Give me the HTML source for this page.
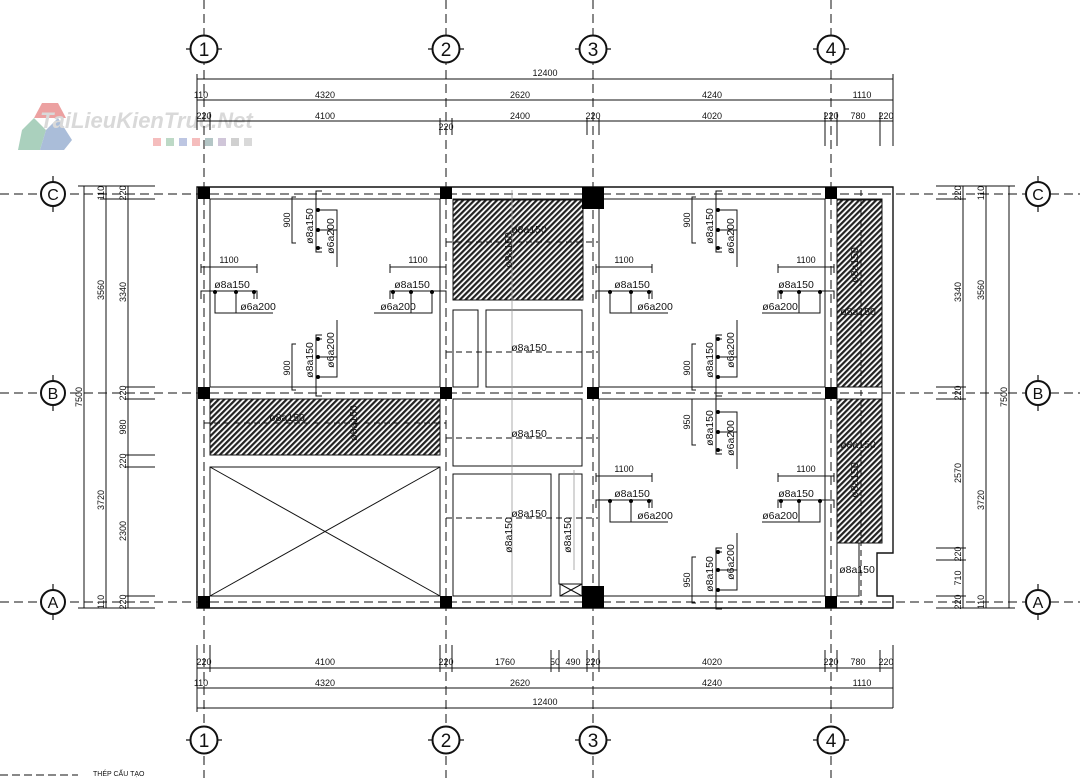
<!DOCTYPE html>
<html><head><meta charset="utf-8"><style>
html,body{margin:0;padding:0;background:#fff}
svg{display:block}
text{font-family:"Liberation Sans",sans-serif;fill:#111}
.d{font-size:9px}
.r{font-size:10.5px}
</style></head><body>
<svg width="1080" height="778" viewBox="0 0 1080 778" xmlns="http://www.w3.org/2000/svg">
<defs>
<pattern id="h" width="4" height="4" patternUnits="userSpaceOnUse" patternTransform="rotate(45)">
<rect width="4" height="4" fill="#fff"/><rect width="2.2" height="4" fill="#222"/></pattern>
<g id="hr"><line x1="0" y1="0" x2="56" y2="0"/><line x1="0" y1="-3" x2="0" y2="6"/><line x1="56" y1="-3" x2="56" y2="6"/><path d="M0 32 V24 H56 V32"/><path d="M14 25 V46 H72 M35 25 V46 M53 25 V32"/></g>
<g id="vr"><path d="M4 0 H0 V46 H4"/><path d="M30 -6 H24 V55 H30"/><path d="M25 13 H45 V70 M25 33 H45 M25 51 H30"/></g>
</defs>
<!-- watermark -->
<g opacity="0.55">
<polygon points="42,103 58,103 66,118 34,118" fill="#d55"/>
<polygon points="22,130 34,118 46,130 40,150 18,150" fill="#6a8"/>
<polygon points="46,130 58,118 72,140 64,150 40,150" fill="#68b"/>
<text x="40" y="128" font-size="22" font-style="italic" font-weight="bold" style="fill:#bbb">TaiLieuKienTruc.Net</text>
<rect x="153" y="138" width="8" height="8" fill="#e88"/><rect x="166" y="138" width="8" height="8" fill="#8b9"/><rect x="179" y="138" width="8" height="8" fill="#89c"/><rect x="192" y="138" width="8" height="8" fill="#e88"/><rect x="205" y="138" width="8" height="8" fill="#799"/><rect x="218" y="138" width="8" height="8" fill="#a9b"/><rect x="231" y="138" width="8" height="8" fill="#aaa"/><rect x="244" y="138" width="8" height="8" fill="#bbb"/>
</g>
<g stroke="#111" fill="none" stroke-width="1">
<g stroke-dasharray="9,5" stroke-width="1">
<line x1="204" y1="0" x2="204" y2="778"/><line x1="446" y1="0" x2="446" y2="778"/>
<line x1="593" y1="0" x2="593" y2="778"/><line x1="831" y1="0" x2="831" y2="778"/>
<line x1="0" y1="194" x2="1080" y2="194"/><line x1="0" y1="393" x2="1080" y2="393"/><line x1="0" y1="602" x2="1080" y2="602"/>
</g>
<g stroke-width="1.2">
<line x1="186" y1="49" x2="222" y2="49"/><line x1="428" y1="49" x2="464" y2="49"/><line x1="575" y1="49" x2="611" y2="49"/><line x1="813" y1="49" x2="849" y2="49"/>
<line x1="186" y1="740" x2="222" y2="740"/><line x1="428" y1="740" x2="464" y2="740"/><line x1="575" y1="740" x2="611" y2="740"/><line x1="813" y1="740" x2="849" y2="740"/>
<line x1="53" y1="176" x2="53" y2="212"/><line x1="53" y1="375" x2="53" y2="411"/><line x1="53" y1="584" x2="53" y2="620"/>
<line x1="1038" y1="176" x2="1038" y2="212"/><line x1="1038" y1="375" x2="1038" y2="411"/><line x1="1038" y1="584" x2="1038" y2="620"/>
</g>
<g fill="#fff" stroke-width="2">
<circle cx="204" cy="49" r="13.5"/><circle cx="446" cy="49" r="13.5"/><circle cx="593" cy="49" r="13.5"/><circle cx="831" cy="49" r="13.5"/>
<circle cx="204" cy="740" r="13.5"/><circle cx="446" cy="740" r="13.5"/><circle cx="593" cy="740" r="13.5"/><circle cx="831" cy="740" r="13.5"/>
<circle cx="53" cy="194" r="12"/><circle cx="53" cy="393" r="12"/><circle cx="53" cy="602" r="12"/>
<circle cx="1038" cy="194" r="12"/><circle cx="1038" cy="393" r="12"/><circle cx="1038" cy="602" r="12"/>
</g>
<line x1="197" y1="79" x2="893" y2="79"/><line x1="893" y1="74" x2="893" y2="121"/>
<line x1="197" y1="100" x2="893" y2="100"/><line x1="197" y1="121" x2="893" y2="121"/>
<line x1="197" y1="74" x2="197" y2="130"/><line x1="210" y1="112" x2="210" y2="130"/>
<line x1="440" y1="118" x2="440" y2="135"/><line x1="452" y1="118" x2="452" y2="135"/>
<line x1="587" y1="118" x2="587" y2="135"/><line x1="599" y1="118" x2="599" y2="135"/>
<line x1="825" y1="112" x2="825" y2="146"/><line x1="837" y1="112" x2="837" y2="146"/>
<line x1="880" y1="112" x2="880" y2="146"/><line x1="893" y1="112" x2="893" y2="146"/>
<line x1="197" y1="668" x2="893" y2="668"/><line x1="197" y1="688" x2="893" y2="688"/><line x1="197" y1="708" x2="893" y2="708"/>
<line x1="197" y1="645" x2="197" y2="712"/><line x1="210" y1="645" x2="210" y2="672"/><line x1="893" y1="645" x2="893" y2="708"/>
<line x1="440" y1="645" x2="440" y2="672"/><line x1="452" y1="645" x2="452" y2="672"/>
<line x1="551" y1="650" x2="551" y2="672"/><line x1="559" y1="650" x2="559" y2="672"/>
<line x1="587" y1="650" x2="587" y2="672"/><line x1="599" y1="650" x2="599" y2="672"/>
<line x1="825" y1="650" x2="825" y2="672"/><line x1="837" y1="650" x2="837" y2="672"/><line x1="880" y1="650" x2="880" y2="672"/>
<line x1="84" y1="186" x2="84" y2="608"/><line x1="106" y1="186" x2="106" y2="608"/><line x1="128" y1="186" x2="128" y2="608"/>
<line x1="78" y1="186" x2="155" y2="186"/><line x1="100" y1="199" x2="155" y2="199"/>
<line x1="125" y1="387" x2="155" y2="387"/><line x1="125" y1="399" x2="155" y2="399"/>
<line x1="125" y1="455" x2="155" y2="455"/><line x1="125" y1="467" x2="155" y2="467"/>
<line x1="125" y1="596" x2="155" y2="596"/><line x1="78" y1="608" x2="155" y2="608"/>
<line x1="963" y1="186" x2="963" y2="608"/><line x1="986" y1="186" x2="986" y2="608"/><line x1="1009" y1="186" x2="1009" y2="608"/>
<line x1="936" y1="186" x2="1015" y2="186"/><line x1="936" y1="199" x2="966" y2="199"/>
<line x1="936" y1="387" x2="966" y2="387"/><line x1="936" y1="399" x2="966" y2="399"/>
<line x1="936" y1="548" x2="966" y2="548"/><line x1="936" y1="560" x2="966" y2="560"/>
<line x1="936" y1="596" x2="966" y2="596"/><line x1="936" y1="608" x2="1015" y2="608"/>
<path d="M197 187 H893 V553 H877 V596 H893 V608 H197 Z" stroke-width="1.4"/>
<rect x="210" y="199" width="230" height="188"/>
<rect x="599" y="199" width="226" height="188"/>
<rect x="599" y="399" width="226" height="197"/>
<path d="M837 199 H882 V543 H859 V596 H837 Z"/>
<rect x="210" y="399" width="230" height="56"/>
<rect x="210" y="467" width="230" height="129"/>
<line x1="210" y1="467" x2="440" y2="596"/><line x1="440" y1="467" x2="210" y2="596"/>
<rect x="453" y="199" width="130" height="101"/>
<rect x="453" y="310" width="25" height="77"/><rect x="486" y="310" width="96" height="77"/>
<rect x="453" y="399" width="129" height="67"/>
<rect x="453" y="474" width="98" height="122"/><rect x="559" y="474" width="23" height="110"/>
<rect x="560" y="584" width="22" height="12"/><line x1="560" y1="584" x2="582" y2="596"/><line x1="582" y1="584" x2="560" y2="596"/>
<line x1="454" y1="202" x2="460" y2="218"/><line x1="460" y1="202" x2="454" y2="218"/>
</g>
<g stroke="#111" stroke-width="1">
<rect x="453" y="200" width="130" height="100" fill="url(#h)"/>
<rect x="210" y="399" width="230" height="56" fill="url(#h)"/>
<rect x="837" y="200" width="45" height="187" fill="url(#h)"/>
<rect x="837" y="399" width="45" height="144" fill="url(#h)"/>
</g>
<g fill="#000">
<rect x="198" y="187" width="12" height="12"/><rect x="440" y="187" width="12" height="12"/><rect x="582" y="187" width="22" height="22"/><rect x="825" y="187" width="12" height="12"/>
<rect x="198" y="387" width="12" height="12"/><rect x="440" y="387" width="12" height="12"/><rect x="587" y="387" width="12" height="12"/><rect x="825" y="387" width="12" height="12"/>
<rect x="198" y="596" width="12" height="12"/><rect x="440" y="596" width="12" height="12"/><rect x="582" y="586" width="22" height="22"/><rect x="825" y="596" width="12" height="12"/>
</g>
<g stroke="#111" fill="none" stroke-dasharray="6,4">
<line x1="446" y1="242" x2="598" y2="242"/><line x1="446" y1="352" x2="598" y2="352"/>
<line x1="446" y1="438" x2="598" y2="438"/><line x1="446" y1="518" x2="598" y2="518"/>
<line x1="204" y1="423" x2="446" y2="423"/>
<line x1="861" y1="190" x2="861" y2="605"/>
</g>
<g stroke="#999" fill="none" stroke-width="0.8">
<line x1="512" y1="190" x2="512" y2="605"/><line x1="574" y1="470" x2="574" y2="570"/>
</g>
<g stroke="#111" fill="none">
<use href="#hr" transform="translate(201,267)"/>
<use href="#hr" transform="translate(446,267) scale(-1,1)"/>
<use href="#hr" transform="translate(596,267)"/>
<use href="#hr" transform="translate(834,267) scale(-1,1)"/>
<use href="#hr" transform="translate(596,476)"/>
<use href="#hr" transform="translate(834,476) scale(-1,1)"/>
<use href="#vr" transform="translate(292,197)"/>
<use href="#vr" transform="translate(692,197)"/>
<use href="#vr" transform="translate(692,399)"/>
<use href="#vr" transform="translate(292,390) scale(1,-1)"/>
<use href="#vr" transform="translate(692,390) scale(1,-1)"/>
<use href="#vr" transform="translate(692,603) scale(1,-1)"/>
</g>
<g fill="#000">
<circle cx="215" cy="292" r="2"/><circle cx="236" cy="292" r="2"/><circle cx="254" cy="292" r="2"/>
<circle cx="432" cy="292" r="2"/><circle cx="411" cy="292" r="2"/><circle cx="393" cy="292" r="2"/>
<circle cx="610" cy="292" r="2"/><circle cx="631" cy="292" r="2"/><circle cx="649" cy="292" r="2"/>
<circle cx="820" cy="292" r="2"/><circle cx="799" cy="292" r="2"/><circle cx="781" cy="292" r="2"/>
<circle cx="610" cy="501" r="2"/><circle cx="631" cy="501" r="2"/><circle cx="649" cy="501" r="2"/>
<circle cx="820" cy="501" r="2"/><circle cx="799" cy="501" r="2"/><circle cx="781" cy="501" r="2"/>
<circle cx="318" cy="210" r="2"/><circle cx="318" cy="230" r="2"/><circle cx="318" cy="248" r="2"/>
<circle cx="718" cy="210" r="2"/><circle cx="718" cy="230" r="2"/><circle cx="718" cy="248" r="2"/>
<circle cx="718" cy="412" r="2"/><circle cx="718" cy="432" r="2"/><circle cx="718" cy="450" r="2"/>
<circle cx="318" cy="377" r="2"/><circle cx="318" cy="357" r="2"/><circle cx="318" cy="339" r="2"/>
<circle cx="718" cy="377" r="2"/><circle cx="718" cy="357" r="2"/><circle cx="718" cy="339" r="2"/>
<circle cx="718" cy="590" r="2"/><circle cx="718" cy="570" r="2"/><circle cx="718" cy="552" r="2"/>
</g>
<g font-size="19" text-anchor="middle">
<text x="204" y="56">1</text><text x="446" y="56">2</text><text x="593" y="56">3</text><text x="831" y="56">4</text>
<text x="204" y="747">1</text><text x="446" y="747">2</text><text x="593" y="747">3</text><text x="831" y="747">4</text>
<text x="53" y="200" font-size="16">C</text><text x="53" y="399" font-size="16">B</text><text x="53" y="608" font-size="16">A</text>
<text x="1038" y="200" font-size="16">C</text><text x="1038" y="399" font-size="16">B</text><text x="1038" y="608" font-size="16">A</text>
</g>
<g class="d" text-anchor="middle">
<text x="545" y="76">12400</text><text x="545" y="705">12400</text>
<text x="201" y="98">110</text><text x="325" y="98">4320</text><text x="520" y="98">2620</text><text x="712" y="98">4240</text><text x="862" y="98">1110</text>
<text x="204" y="119">220</text><text x="325" y="119">4100</text><text x="520" y="119">2400</text><text x="712" y="119">4020</text><text x="831" y="119">220</text><text x="858" y="119">780</text><text x="886" y="119">220</text>
<text x="446" y="130">220</text><text x="593" y="119">220</text>
<text x="204" y="665">220</text><text x="325" y="665">4100</text><text x="446" y="665">220</text><text x="505" y="665">1760</text><text x="555" y="665">50</text><text x="573" y="665">490</text><text x="593" y="665">220</text><text x="712" y="665">4020</text><text x="831" y="665">220</text><text x="858" y="665">780</text><text x="886" y="665">220</text>
<text x="201" y="686">110</text><text x="325" y="686">4320</text><text x="520" y="686">2620</text><text x="712" y="686">4240</text><text x="862" y="686">1110</text>
<text x="229" y="263">1100</text><text x="418" y="263">1100</text><text x="624" y="263">1100</text><text x="806" y="263">1100</text><text x="624" y="472">1100</text><text x="806" y="472">1100</text>
</g>
<g class="d" text-anchor="middle">
<text transform="translate(82,397) rotate(-90)">7500</text><text transform="translate(104,290) rotate(-90)">3560</text><text transform="translate(104,500) rotate(-90)">3720</text>
<text transform="translate(104,193) rotate(-90)">110</text><text transform="translate(104,602) rotate(-90)">110</text>
<text transform="translate(126,193) rotate(-90)">220</text><text transform="translate(126,292) rotate(-90)">3340</text><text transform="translate(126,393) rotate(-90)">220</text><text transform="translate(126,427) rotate(-90)">980</text><text transform="translate(126,461) rotate(-90)">220</text><text transform="translate(126,531) rotate(-90)">2300</text><text transform="translate(126,602) rotate(-90)">220</text>
<text transform="translate(961,193) rotate(-90)">220</text><text transform="translate(961,292) rotate(-90)">3340</text><text transform="translate(961,393) rotate(-90)">220</text><text transform="translate(961,473) rotate(-90)">2570</text><text transform="translate(961,554) rotate(-90)">220</text><text transform="translate(961,578) rotate(-90)">710</text><text transform="translate(961,602) rotate(-90)">220</text>
<text transform="translate(984,193) rotate(-90)">110</text><text transform="translate(984,290) rotate(-90)">3560</text><text transform="translate(984,500) rotate(-90)">3720</text><text transform="translate(984,602) rotate(-90)">110</text>
<text transform="translate(1007,397) rotate(-90)">7500</text>
<text transform="translate(290,220) rotate(-90)">900</text><text transform="translate(290,368) rotate(-90)">900</text>
<text transform="translate(690,220) rotate(-90)">900</text><text transform="translate(690,368) rotate(-90)">900</text>
<text transform="translate(690,422) rotate(-90)">950</text><text transform="translate(690,580) rotate(-90)">950</text>
</g>
<g class="r" text-anchor="middle">
<text x="232" y="288">ø8a150</text><text x="258" y="310">ø6a200</text>
<text x="412" y="288">ø8a150</text><text x="398" y="310">ø6a200</text>
<text x="632" y="288">ø8a150</text><text x="655" y="310">ø6a200</text>
<text x="796" y="288">ø8a150</text><text x="780" y="310">ø6a200</text>
<text x="632" y="497">ø8a150</text><text x="655" y="519">ø6a200</text>
<text x="796" y="497">ø8a150</text><text x="780" y="519">ø6a200</text>
<text x="529" y="233">ø8a150</text><text x="529" y="351">ø8a150</text><text x="529" y="437">ø8a150</text><text x="529" y="517">ø8a150</text>
<text x="287" y="421">ø8a150</text><text x="858" y="315">ø8a150</text><text x="858" y="448">ø8a150</text><text x="857" y="573">ø8a150</text>
<text transform="translate(313,226) rotate(-90)">ø8a150</text><text transform="translate(334,236) rotate(-90)">ø6a200</text>
<text transform="translate(313,360) rotate(-90)">ø8a150</text><text transform="translate(334,350) rotate(-90)">ø6a200</text>
<text transform="translate(713,226) rotate(-90)">ø8a150</text><text transform="translate(734,236) rotate(-90)">ø6a200</text>
<text transform="translate(713,360) rotate(-90)">ø8a150</text><text transform="translate(734,350) rotate(-90)">ø6a200</text>
<text transform="translate(713,428) rotate(-90)">ø8a150</text><text transform="translate(734,438) rotate(-90)">ø6a200</text>
<text transform="translate(713,574) rotate(-90)">ø8a150</text><text transform="translate(734,562) rotate(-90)">ø6a200</text>
<text transform="translate(512,250) rotate(-90)">ø8a150</text><text transform="translate(357,423) rotate(-90)">ø8a150</text>
<text transform="translate(858,265) rotate(-90)">ø8a150</text><text transform="translate(858,480) rotate(-90)">ø8a150</text>
<text transform="translate(512,535) rotate(-90)">ø8a150</text><text transform="translate(571,535) rotate(-90)">ø8a150</text>
</g>
<line x1="0" y1="775" x2="78" y2="775" stroke="#111" stroke-dasharray="8,4"/>
<text x="93" y="776" font-size="7">THÉP CẤU TẠO</text>
</svg>
</body></html>
